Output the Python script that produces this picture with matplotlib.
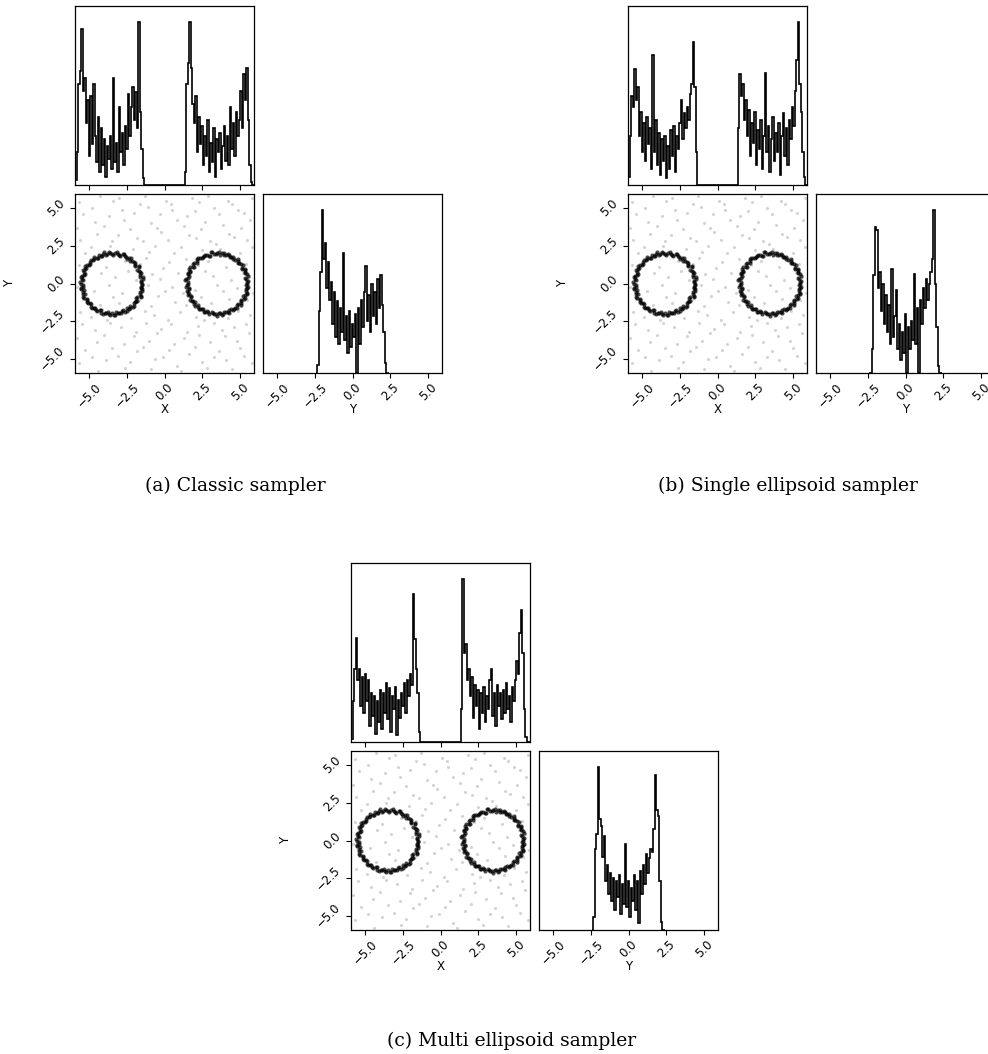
import numpy as np
import matplotlib
matplotlib.use('Agg')
import matplotlib.pyplot as plt

# ---------------------------------------------------------------
# DATA
# ---------------------------------------------------------------
AX_LIM = (-5.95, 5.95)
TICKS = [-5.0, -2.5, 0.0, 2.5, 5.0]
TICK_LABELS = ['\u22125.0', '\u22122.5', '0.0', '2.5', '5.0']

BIN_W = 0.1
XHIST_LEFT_START = -5.95     # left ring block of X marginal
XHIST_GAP_BINS = 27          # empty bins between the two rings
YHIST_START = -2.45

# panel (a) classic sampler
A_XHIST_LEFT = [3, 20, 62, 70, 96, 58, 66, 38, 52, 18, 55, 25, 62, 30, 14, 42,
                8, 35, 12, 28, 5, 24, 16, 30, 10, 66, 14, 26, 8, 48, 20, 32,
                12, 36, 22, 56, 30, 48, 60, 40, 57, 35, 100, 45, 22, 4]
A_XHIST_RIGHT = [8, 62, 75, 100, 72, 50, 38, 55, 20, 42, 25, 36, 12, 30, 18, 40,
                 8, 26, 14, 35, 5, 28, 20, 32, 10, 24, 36, 15, 30, 12, 48, 22,
                 38, 18, 45, 30, 40, 58, 35, 68, 52, 72, 40, 12, 2, 0]
A_YHIST = [0, 5, 38, 62, 100, 70, 80, 52, 68, 45, 56, 30, 50, 22, 44, 18,
           40, 25, 74, 20, 35, 12, 38, 16, 30, 22, 36, 0, 40, 18, 45, 28,
           50, 66, 32, 48, 25, 55, 35, 50, 30, 58, 40, 60, 42, 25, 6, 0, 0]

# panel (b) single ellipsoid sampler
B_XHIST_LEFT = [5, 30, 55, 48, 71, 52, 60, 30, 45, 20, 38, 15, 42, 25, 35, 10,
                80, 20, 40, 12, 32, 6, 28, 15, 30, 4, 24, 10, 34, 18, 36, 8,
                30, 22, 38, 52, 28, 44, 35, 48, 40, 56, 62, 88, 60, 20]
B_XHIST_RIGHT = [35, 68, 55, 62, 40, 52, 30, 46, 18, 38, 26, 45, 12, 34, 22, 40,
                 10, 30, 69, 20, 36, 8, 28, 42, 15, 32, 20, 38, 6, 30, 44, 18,
                 35, 12, 40, 28, 48, 36, 58, 77, 100, 62, 45, 20, 5, 0]
B_YHIST = [0, 0, 15, 60, 90, 88, 52, 62, 38, 55, 30, 48, 25, 42, 18, 64,
           22, 35, 51, 15, 30, 8, 25, 12, 36, 0, 28, 15, 32, 20, 61, 18,
           40, 0, 45, 30, 52, 40, 58, 45, 55, 62, 70, 100, 55, 28, 4, 0, 0]

# panel (c) multi ellipsoid sampler
C_XHIST_LEFT = [2, 25, 45, 64, 38, 45, 22, 40, 18, 42, 25, 38, 10, 30, 16, 28,
                5, 25, 12, 32, 8, 30, 18, 36, 14, 33, 6, 28, 20, 34, 4, 26,
                15, 30, 22, 36, 18, 38, 28, 42, 35, 91, 63, 45, 30, 6]
C_XHIST_RIGHT = [20, 100, 55, 60, 38, 45, 28, 40, 15, 35, 22, 32, 8, 30, 18, 34,
                 12, 28, 20, 38, 45, 16, 30, 10, 35, 22, 30, 14, 32, 18, 36, 20,
                 28, 12, 34, 25, 38, 50, 42, 67, 81, 55, 20, 3, 0, 0]
C_YHIST = [0, 8, 50, 59, 100, 68, 64, 45, 58, 30, 40, 22, 35, 18, 32, 12,
           30, 20, 34, 10, 28, 16, 53, 14, 30, 8, 26, 18, 34, 12, 30, 4,
           36, 22, 40, 28, 47, 35, 44, 50, 48, 62, 95, 74, 70, 30, 5, 0, 0]

# light grey background samples (shared look in all three panels)
BG_X = [-5.7, -4.4, -3.9, -2.6, -2.3, -0.9, -0.6, 0.8, 1.1, 2.5, 2.8, 4.1, 4.5, 5.8,
        -5.3, -4.8, -3.5, -3.1, -1.8, -1.4, -0.1, 0.3, 1.6, 2.0, 3.3, 3.6, 5.0, 5.3,
        -5.8, -4.5, -4.0, -2.7, -2.0, -1.0, -0.5, 0.6, 1.3, 2.3, 3.0, 4.0, 4.8, 5.6,
        -5.5, -4.6, -3.6, -2.9, -1.9, -1.2, -0.2, 0.4, 1.5, 2.2, 3.3, 3.8, 4.6, 5.4,
        -5.6, -4.9, -3.8, -2.5, -2.2, -1.3, -0.7, 0.2, 1.0, 2.1, 2.6, 4.2, 4.9, 5.7,
        -5.4, -4.3, -3.4, -3.0, -1.7, -0.9, -0.4, 0.7, 1.4, 2.4, 3.1, 4.3, 5.1, 5.5,
        -5.8, -4.7, -3.7, -2.8, -1.5, -1.1, 0.0, 0.5, 1.2, 2.0, 3.5, 3.9, 4.8, 5.9,
        -5.5, -4.2, -3.3, -2.4, -1.9, -0.8, -0.3, 0.9, 1.7, 2.7, 3.2, 4.4, 5.2, 5.6,
        -5.7, -4.4, -3.9, -2.6, -1.6, -1.2, -0.1, 0.3, 1.4, 2.2, 2.9, 4.1, 4.7, 5.4,
        -5.3, -4.9, -3.6, -2.9, -2.1, -1.0, -0.6, 0.6, 1.1, 2.5, 3.4, 3.7, 5.0, 5.8,
        -5.6, -4.5, -3.5, -3.1, -1.8, -1.4, -0.2, 0.2, 1.6, 2.1, 3.0, 4.3, 4.6, 5.5,
        -5.8, -4.6, -4.0, -2.7, -2.3, -0.9, -0.5, 0.8, 1.3, 2.4, 2.7, 3.9, 5.1, 5.7,
        -5.4, -4.8, -3.7, -2.8, -2.0, -1.1, -0.3, 0.5, 1.5, 2.0, 3.3, 3.6, 4.9, 5.3,
        -5.7, -4.3, -3.4, -3.0, -1.6, -1.3, 0.1, 0.4, 1.8, 2.3, 2.9, 4.2, 4.5, 5.8]
BG_Y = [-5.3, -5.8, -5.1, -5.6, -5.2, -5.7, -5.0, -5.5, -5.8, -5.2, -5.6, -5.1, -5.7, -5.3,
        -4.4, -4.9, -4.3, -4.8, -4.5, -4.2, -4.9, -4.4, -4.7, -4.2, -4.9, -4.5, -4.3, -4.8,
        -3.6, -3.9, -3.4, -4.0, -3.5, -3.8, -3.3, -4.0, -3.6, -3.4, -3.9, -3.5, -3.8, -3.3,
        -2.7, -3.1, -2.6, -2.9, -3.2, -2.6, -3.0, -2.7, -3.2, -2.8, -2.6, -3.1, -2.9, -2.7,
        -1.9, -2.2, -2.4, -1.7, -2.3, -1.8, -2.1, -2.4, -1.9, -2.2, -2.4, -2.3, -1.8, -2.1,
        -1.0, -1.4, -0.9, -1.3, -1.1, -1.5, -0.8, -1.2, -1.4, -0.9, -1.3, -1.0, -1.5, -1.1,
        -0.2, -0.5, -0.1, -0.6, -0.3, -0.1, -0.5, -0.2, -0.6, -0.4, -0.1, -0.5, -0.3, -0.6,
        0.3, 0.7, 0.4, 0.8, 0.2, 0.6, 0.3, 0.7, 0.4, 0.8, 0.5, 0.2, 0.7, 0.4,
        1.2, 1.6, 1.1, 1.5, 1.3, 1.7, 1.0, 1.4, 1.6, 1.2, 1.5, 1.1, 1.7, 1.3,
        2.0, 2.4, 2.5, 1.9, 2.3, 2.1, 2.5, 2.0, 2.4, 2.2, 2.6, 2.3, 2.0, 2.4,
        2.9, 3.3, 2.8, 3.2, 3.0, 2.8, 3.4, 2.9, 3.2, 3.0, 2.8, 3.3, 3.1, 2.9,
        3.7, 4.1, 3.8, 4.2, 3.6, 4.0, 3.7, 4.2, 3.8, 3.6, 4.1, 3.9, 3.7, 4.2,
        4.6, 5.0, 4.5, 4.9, 4.7, 5.1, 4.6, 4.9, 4.5, 4.8, 5.0, 4.6, 4.9, 4.7,
        5.4, 5.8, 5.5, 5.7, 5.3, 5.8, 5.5, 5.3, 5.7, 5.4, 5.8, 5.5, 5.3, 5.7]

# dense samples on the two rings, as angle (deg) / radius around each centre
RING_CENTRES_X = [-3.5, 3.5]
RING_ANGLES_A = [0, 5, 11, 17, 22, 28, 33, 39, 45, 50, 56, 62, 67, 73, 78, 84,
                 90, 96, 101, 107, 112, 118, 124, 129, 135, 141, 146, 152, 157, 163, 169, 174,
                 180, 186, 191, 197, 202, 208, 214, 219, 225, 231, 236, 242, 247, 253, 259, 264,
                 270, 276, 281, 287, 292, 298, 304, 309, 315, 321, 326, 332, 337, 343, 349, 354]
RING_ANGLES_B = [3, 8, 14, 20, 25, 31, 36, 42, 48, 53, 59, 65, 70, 76, 81, 87,
                 93, 99, 104, 110, 115, 121, 127, 132, 138, 144, 149, 155, 160, 166, 172, 177,
                 183, 189, 194, 200, 205, 211, 217, 222, 228, 234, 239, 245, 250, 256, 262, 267,
                 273, 279, 284, 290, 295, 301, 307, 312, 318, 324, 329, 335, 340, 346, 352, 357]
RING_R_1 = [2.02, 1.93, 2.10, 1.97, 2.05, 1.90, 2.12, 1.99, 2.04, 1.92, 2.08, 1.96, 2.11, 1.94, 2.03, 2.07,
            1.98, 2.13, 1.91, 2.05, 2.00, 1.95, 2.09, 1.97, 2.06, 1.92, 2.12, 1.99, 2.03, 1.94, 2.10, 1.96,
            2.04, 1.91, 2.08, 2.00, 1.95, 2.11, 1.97, 2.05, 1.93, 2.09, 1.98, 2.06, 1.92, 2.12, 1.99, 2.03,
            1.95, 2.10, 1.97, 2.04, 1.92, 2.08, 2.01, 1.94, 2.11, 1.96, 2.05, 1.93, 2.09, 1.98, 2.02, 1.95]
RING_R_2 = [1.96, 2.09, 1.92, 2.05, 1.99, 2.12, 1.94, 2.06, 1.97, 2.11, 1.93, 2.03, 2.08, 1.95, 2.10, 1.91,
            2.04, 1.98, 2.13, 1.94, 2.07, 1.96, 2.02, 2.11, 1.92, 2.05, 1.97, 2.09, 1.93, 2.06, 1.99, 2.12,
            1.95, 2.08, 1.91, 2.04, 2.10, 1.96, 2.03, 1.93, 2.11, 1.98, 2.06, 1.94, 2.09, 2.00, 1.92, 2.07,
            2.13, 1.95, 2.05, 1.97, 2.10, 1.93, 2.04, 2.08, 1.96, 2.02, 1.91, 2.11, 1.99, 2.06, 1.94, 2.03]

CAPTIONS = ['(a) Classic sampler', '(b) Single ellipsoid sampler', '(c) Multi ellipsoid sampler']

# ---------------------------------------------------------------
# LAYOUT (pixel boxes of the reference, 988 x 1054)
# ---------------------------------------------------------------
W, H = 988, 1054
SIZE = 179
ORIGINS = [(75, 6), (628, 6), (351, 563)]      # top-left of the X histogram
CAPTION_POS = [(235, 486), (788, 486), (512, 1041)]

plt.rcParams['font.family'] = 'DejaVu Sans'
plt.rcParams['font.size'] = 8.5
plt.rcParams['axes.linewidth'] = 0.9


def box(left, top):
    return [left / W, 1 - (top + SIZE) / H, SIZE / W, SIZE / H]


def x_edges_and_counts(left, right):
    counts = np.concatenate([left, np.zeros(XHIST_GAP_BINS), right])
    edges = XHIST_LEFT_START + BIN_W * np.arange(len(counts) + 1)
    return edges, counts


def set_xticks(ax, labels=True):
    ax.set_xticks(TICKS)
    if labels:
        ax.set_xticklabels(TICK_LABELS, rotation=45, ha='center')
    else:
        ax.set_xticklabels([])
    ax.tick_params(axis='x', length=3.5, width=0.8, pad=2)


fig = plt.figure(figsize=(W / 100, H / 100), dpi=100)

panels = [(A_XHIST_LEFT, A_XHIST_RIGHT, A_YHIST),
          (B_XHIST_LEFT, B_XHIST_RIGHT, B_YHIST),
          (C_XHIST_LEFT, C_XHIST_RIGHT, C_YHIST)]

# polar -> cartesian for the ring samples
ring_x, ring_y = [], []
ring_sets = [[(RING_ANGLES_A, RING_R_1), (RING_ANGLES_B, RING_R_2)],
             [(RING_ANGLES_A, RING_R_2), (RING_ANGLES_B, RING_R_1)]]
for cx, sets in zip(RING_CENTRES_X, ring_sets):
    for angles, radii in sets:
        th = np.deg2rad(angles)
        ring_x.append(cx + np.array(radii) * np.cos(th))
        ring_y.append(np.array(radii) * np.sin(th))
ring_x = np.concatenate(ring_x)
ring_y = np.concatenate(ring_y)

for (xl, xr, yh), (ox, oy), cap, cpos in zip(panels, ORIGINS, CAPTIONS, CAPTION_POS):
    # X marginal
    ax_top = fig.add_axes(box(ox, oy))
    edges, counts = x_edges_and_counts(xl, xr)
    ax_top.stairs(counts, edges, color='k', lw=1.2)
    ax_top.set_xlim(AX_LIM)
    ax_top.set_ylim(0, 1.1 * counts.max())
    ax_top.set_yticks([])
    set_xticks(ax_top, labels=False)

    # joint scatter
    ax_sc = fig.add_axes(box(ox, oy + SIZE + 9))
    ax_sc.scatter(BG_X, BG_Y, s=5, color='#cccccc', lw=0, alpha=0.85)
    ax_sc.scatter(ring_x, ring_y, s=9, color='k', lw=0, alpha=0.7)
    ax_sc.set_xlim(AX_LIM)
    ax_sc.set_ylim(AX_LIM)
    set_xticks(ax_sc)
    ax_sc.set_yticks(TICKS)
    ax_sc.set_yticklabels(TICK_LABELS, rotation=45, va='center')
    ax_sc.tick_params(axis='y', length=3.5, width=0.8, pad=2)
    ax_sc.set_xlabel('X')
    ax_sc.xaxis.set_label_coords(0.5, -0.17)
    ax_sc.set_ylabel('Y')
    ax_sc.yaxis.set_label_coords(-0.33, 0.5)

    # Y marginal
    ax_y = fig.add_axes(box(ox + SIZE + 9, oy + SIZE + 9))
    y_edges = YHIST_START + BIN_W * np.arange(len(yh) + 1)
    ax_y.stairs(yh, y_edges, color='k', lw=1.2)
    ax_y.set_xlim(AX_LIM)
    ax_y.set_ylim(0, 1.1 * max(yh))
    ax_y.set_yticks([])
    set_xticks(ax_y)
    ax_y.set_xlabel('Y')
    ax_y.xaxis.set_label_coords(0.5, -0.17)

    fig.text(cpos[0] / W, 1 - cpos[1] / H, cap, ha='center', va='center',
             fontsize=13.5, family='DejaVu Serif')

fig.savefig('out.png', dpi=100)
